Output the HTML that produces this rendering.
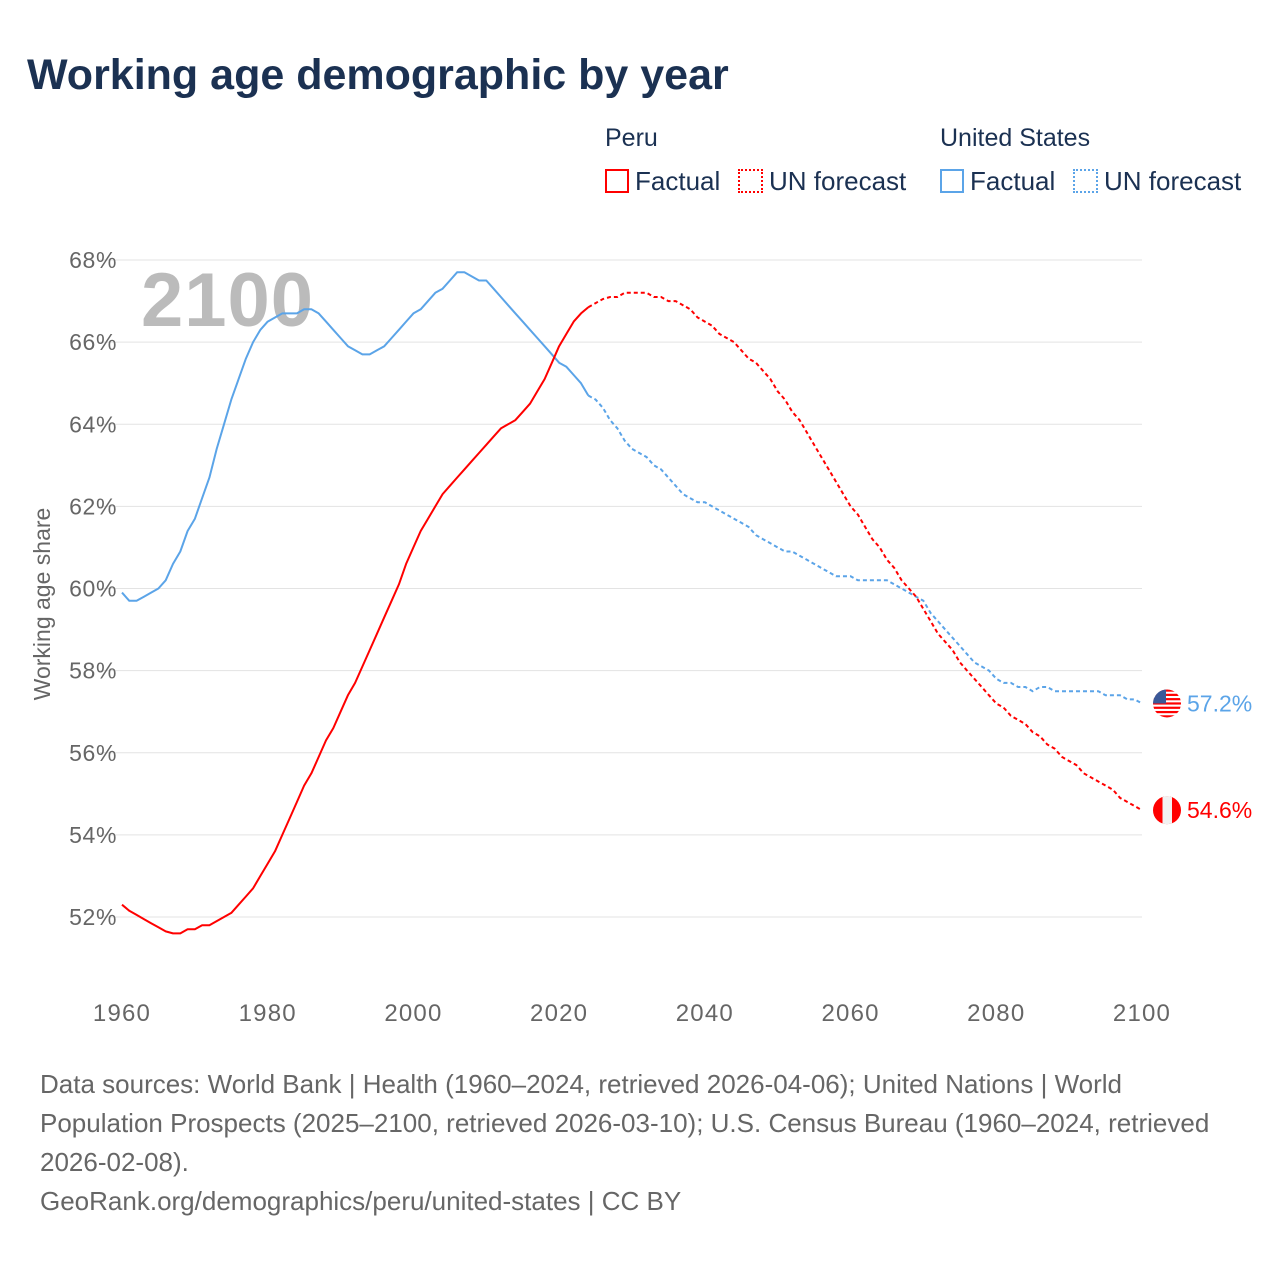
<!DOCTYPE html>
<html><head><meta charset="utf-8">
<style>
body{margin:0;width:1280px;height:1280px;background:#fff;font-family:"Liberation Sans",sans-serif;overflow:hidden}
#root{position:relative;width:1280px;height:1280px}
.t{position:absolute;white-space:nowrap}
</style></head>
<body><div id="root">
<div class="t" style="left:27px;top:51px;font-size:43px;font-weight:bold;color:#1b3152">Working age demographic by year</div>
<div class="t" style="left:605px;top:124px;font-size:25px;color:#1b3152">Peru</div>
<div class="t" style="left:940px;top:124px;font-size:25px;color:#1b3152">United States</div>
<div class="t" style="left:605px;top:166px;font-size:26px;color:#1b3152"><span style="display:inline-block;width:24px;height:24px;border:2px solid #f00;box-sizing:border-box;vertical-align:-3px;margin-right:6px"></span>Factual</div>
<div class="t" style="left:738px;top:166px;font-size:26px;color:#1b3152"><span style="display:inline-block;width:25px;height:24px;border:2px dotted #f00;box-sizing:border-box;vertical-align:-3px;margin-right:6px"></span>UN forecast</div>
<div class="t" style="left:940px;top:166px;font-size:26px;color:#1b3152"><span style="display:inline-block;width:24px;height:24px;border:2px solid #5ba4e8;box-sizing:border-box;vertical-align:-3px;margin-right:6px"></span>Factual</div>
<div class="t" style="left:1073px;top:166px;font-size:26px;color:#1b3152"><span style="display:inline-block;width:25px;height:24px;border:2px dotted #5ba4e8;box-sizing:border-box;vertical-align:-3px;margin-right:6px"></span>UN forecast</div>
<svg id="chart" width="1280" height="1280" style="position:absolute;left:0;top:0"></svg>
<div class="t" style="left:40px;top:1065px;font-size:26px;line-height:39px;color:#666">Data sources: World Bank | Health (1960–2024, retrieved 2026-04-06); United Nations | World<br>Population Prospects (2025–2100, retrieved 2026-03-10); U.S. Census Bureau (1960–2024, retrieved<br>2026-02-08).<br>GeoRank.org/demographics/peru/united-states | CC BY</div>
</div>
<script>
const years=[];for(let y=1960;y<=2100;y++)years.push(y);
const peru=[52.3,52.15,52.05,51.95,51.85,51.75,51.65,51.6,51.6,51.7,51.7,51.8,51.8,51.9,52.0,52.1,52.3,52.5,52.7,53.0,53.3,53.6,54.0,54.4,54.8,55.2,55.5,55.9,56.3,56.6,57.0,57.4,57.7,58.1,58.5,58.9,59.3,59.7,60.1,60.6,61.0,61.4,61.7,62.0,62.3,62.5,62.7,62.9,63.1,63.3,63.5,63.7,63.9,64.0,64.1,64.3,64.5,64.8,65.1,65.5,65.9,66.2,66.5,66.7,66.85,66.95,67.05,67.1,67.1,67.2,67.2,67.2,67.2,67.1,67.1,67.0,67.0,66.9,66.8,66.6,66.5,66.4,66.2,66.1,66.0,65.8,65.6,65.5,65.3,65.1,64.8,64.6,64.3,64.1,63.8,63.5,63.2,62.9,62.6,62.3,62.0,61.8,61.5,61.2,61.0,60.7,60.5,60.2,60.0,59.8,59.5,59.2,58.9,58.7,58.5,58.2,58.0,57.8,57.6,57.4,57.2,57.1,56.9,56.8,56.7,56.5,56.4,56.2,56.1,55.9,55.8,55.7,55.5,55.4,55.3,55.2,55.1,54.9,54.8,54.7,54.6];
const us=[59.9,59.7,59.7,59.8,59.9,60.0,60.2,60.6,60.9,61.4,61.7,62.2,62.7,63.4,64.0,64.6,65.1,65.6,66.0,66.3,66.5,66.6,66.7,66.7,66.7,66.8,66.8,66.7,66.5,66.3,66.1,65.9,65.8,65.7,65.7,65.8,65.9,66.1,66.3,66.5,66.7,66.8,67.0,67.2,67.3,67.5,67.7,67.7,67.6,67.5,67.5,67.3,67.1,66.9,66.7,66.5,66.3,66.1,65.9,65.7,65.5,65.4,65.2,65.0,64.7,64.6,64.4,64.1,63.9,63.6,63.4,63.3,63.2,63.0,62.9,62.7,62.5,62.3,62.2,62.1,62.1,62.0,61.9,61.8,61.7,61.6,61.5,61.3,61.2,61.1,61.0,60.9,60.9,60.8,60.7,60.6,60.5,60.4,60.3,60.3,60.3,60.2,60.2,60.2,60.2,60.2,60.1,60.0,59.9,59.8,59.7,59.4,59.2,59.0,58.8,58.6,58.4,58.2,58.1,58.0,57.8,57.7,57.7,57.6,57.6,57.5,57.6,57.6,57.5,57.5,57.5,57.5,57.5,57.5,57.5,57.4,57.4,57.4,57.3,57.3,57.2];
const yTicks=[52,54,56,58,60,62,64,66,68];
const xTicks=[1960,1980,2000,2020,2040,2060,2080,2100];
const lastFactual=2024;
const X=v=>122+(v-1960)*(1020/140);
const Y=v=>917-(v-52)*(657/16);
const svg=document.getElementById('chart');const NS='http://www.w3.org/2000/svg';
function mk(tag,attrs,txt){const e=document.createElementNS(NS,tag);for(const k in attrs)e.setAttribute(k,attrs[k]);if(txt!=null)e.textContent=txt;svg.appendChild(e);return e;}
yTicks.forEach(v=>{
 const g=mk('line',{x1:100,x2:1142,y1:Y(v),y2:Y(v),stroke:'#e3e3e3','stroke-width':1});
 
 
 const t=mk('text',{x:117,y:Y(v)+8,'text-anchor':'end','font-size':23,'letter-spacing':0.6,fill:'#666','font-family':'Liberation Sans'},v+'%');
 
 
});
xTicks.forEach(v=>{
 const t=mk('text',{x:X(v),y:1021,'text-anchor':'middle','font-size':24,'letter-spacing':1.2,fill:'#666','font-family':'Liberation Sans'},v);
 
 
});
const yt=mk('text',{x:0,y:0,transform:'translate(50,604) rotate(-90)','text-anchor':'middle','font-size':23,fill:'#666','font-family':'Liberation Sans'},'Working age share');


const yr=mk('text',{x:141,y:326,'font-size':76,'font-weight':'bold','letter-spacing':1,fill:'#bbb','font-family':'Liberation Sans'},'2100');


function path(vals,color,name){
 let a='',b='';
 years.forEach((y,i)=>{const p=X(y).toFixed(1)+','+Y(vals[i]).toFixed(1);
  if(y<=lastFactual)a+=(a?'L':'M')+p;
  if(y>=lastFactual)b+=(b?'L':'M')+p;});
 const p1=mk('path',{d:a,fill:'none',stroke:color,'stroke-width':2,'stroke-linejoin':'round'});
 
 
 const p2=mk('path',{d:b,fill:'none',stroke:color,'stroke-width':2,'stroke-dasharray':'4,3'});
 
 
}
path(us,'#5ba4e8','us');
path(peru,'#f00','peru');
const defs=mk('defs',{});
defs.innerHTML='<clipPath id="cu"><circle cx="1167" cy="'+Y(us[140])+'" r="14"/></clipPath><clipPath id="cp"><circle cx="1167" cy="'+Y(peru[140])+'" r="14"/></clipPath>';
const uy=Y(us[140]),py=Y(peru[140]);
const gu=mk('g',{'clip-path':'url(#cu)'});


let s='<rect x="1153" y="'+(uy-14)+'" width="28" height="28" fill="#fff"/>';
for(let i=0;i<7;i++)s+='<rect x="1153" y="'+(uy-14+i*4.3)+'" width="28" height="2.2" fill="#f00"/>';
s+='<rect x="1153" y="'+(uy-14)+'" width="13" height="14" fill="#3b5998"/>';
gu.innerHTML=s;
const gp=mk('g',{'clip-path':'url(#cp)'});


gp.innerHTML='<rect x="1153" y="'+(py-14)+'" width="28" height="28" fill="#f00"/><rect x="1162.5" y="'+(py-14)+'" width="9.5" height="28" fill="#f2f2f2"/>';
const lu=mk('text',{x:1187,y:uy+8,'font-size':23,fill:'#5ba4e8','font-family':'Liberation Sans'},us[140].toFixed(1)+'%');


const lp=mk('text',{x:1187,y:py+8,'font-size':23,fill:'#f00','font-family':'Liberation Sans'},peru[140].toFixed(1)+'%');


</script>
</body></html>
